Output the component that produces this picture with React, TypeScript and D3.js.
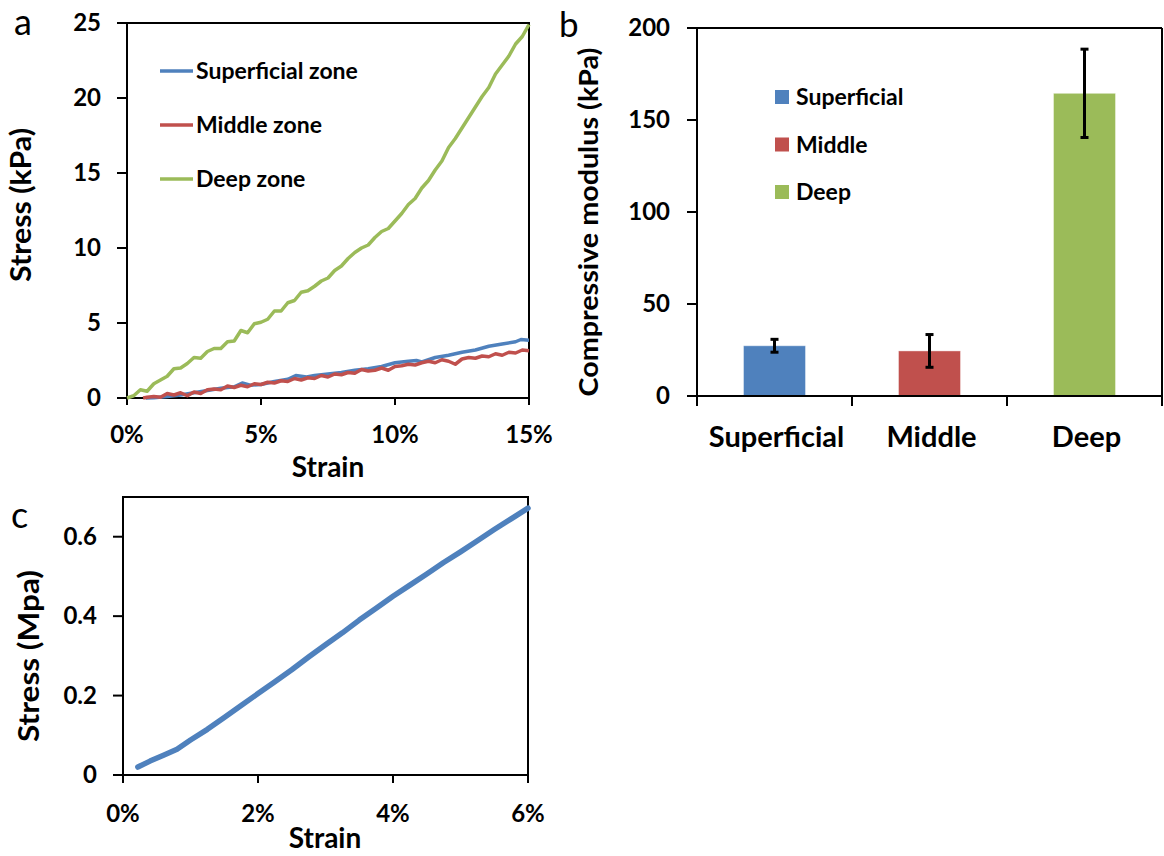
import React from 'react';
import * as d3 from 'd3';

// panel a: stress-strain curves per zone (strain in %, stress in kPa)
const superficialStrain = [0.7, 1.0, 1.5, 2.0, 2.5, 3.0, 3.5, 4.0, 4.3, 4.6, 5.0, 5.5, 6.0, 6.3, 6.7, 7.0, 7.5, 8.0, 8.5, 9.0, 9.5, 10.0, 10.5, 10.8, 11.0, 11.5, 12.0, 12.5, 13.0, 13.5, 14.0, 14.5, 14.7, 15.0];
const superficialStress = [0.0, 0.02, 0.1, 0.2, 0.35, 0.5, 0.65, 0.75, 1.0, 0.85, 0.9, 1.1, 1.25, 1.5, 1.4, 1.5, 1.6, 1.7, 1.85, 1.95, 2.1, 2.35, 2.45, 2.5, 2.4, 2.7, 2.85, 3.05, 3.2, 3.45, 3.6, 3.75, 3.9, 3.85];

const middleStrain = [0.6, 0.75, 1.0, 1.25, 1.5, 1.75, 2.0, 2.25, 2.5, 2.75, 3.0, 3.25, 3.5, 3.75, 4.0, 4.25, 4.5, 4.75, 5.0, 5.25, 5.5, 5.75, 6.0, 6.25, 6.5, 6.75, 7.0, 7.25, 7.5, 7.75, 8.0, 8.25, 8.5, 8.75, 9.0, 9.25, 9.5, 9.75, 10.0, 10.25, 10.5, 10.75, 11.0, 11.25, 11.5, 11.75, 12.0, 12.25, 12.5, 12.75, 13.0, 13.25, 13.5, 13.75, 14.0, 14.25, 14.5, 14.75, 15.0];
const middleStress = [0.0, 0.05, 0.1, 0.05, 0.3, 0.2, 0.35, 0.15, 0.4, 0.3, 0.55, 0.6, 0.55, 0.8, 0.7, 0.85, 0.75, 0.95, 0.9, 1.05, 1.0, 1.15, 1.1, 1.3, 1.2, 1.35, 1.3, 1.5, 1.4, 1.6, 1.55, 1.7, 1.65, 1.9, 1.8, 1.85, 2.0, 1.85, 2.1, 2.15, 2.25, 2.2, 2.35, 2.45, 2.35, 2.55, 2.45, 2.25, 2.6, 2.7, 2.65, 2.8, 2.75, 2.95, 2.85, 3.05, 3.0, 3.2, 3.15];

const deepStrain = [0, 0.25, 0.5, 0.75, 1.0, 1.25, 1.5, 1.75, 2.0, 2.25, 2.5, 2.75, 3.0, 3.25, 3.5, 3.75, 4.0, 4.25, 4.5, 4.75, 5.0, 5.25, 5.5, 5.75, 6.0, 6.25, 6.5, 6.75, 7.0, 7.25, 7.5, 7.75, 8.0, 8.25, 8.5, 8.75, 9.0, 9.25, 9.5, 9.75, 10.0, 10.25, 10.5, 10.75, 11.0, 11.25, 11.5, 11.75, 12.0, 12.25, 12.5, 12.75, 13.0, 13.25, 13.5, 13.75, 14.0, 14.25, 14.5, 14.75, 15.0];
const deepStress = [0.0, 0.15, 0.55, 0.45, 0.95, 1.2, 1.45, 1.95, 2.0, 2.3, 2.7, 2.65, 3.1, 3.3, 3.3, 3.75, 3.8, 4.5, 4.35, 4.95, 5.05, 5.25, 5.8, 5.8, 6.35, 6.5, 7.05, 7.15, 7.45, 7.8, 8.0, 8.5, 8.8, 9.3, 9.7, 10.0, 10.2, 10.7, 11.1, 11.3, 11.8, 12.3, 12.9, 13.3, 14.0, 14.5, 15.2, 15.8, 16.7, 17.3, 18.0, 18.7, 19.4, 20.1, 20.7, 21.6, 22.2, 22.8, 23.6, 24.1, 24.9];

const zoneLegend = ['Superficial zone', 'Middle zone', 'Deep zone'];
const aXTicks = [0, 5, 10, 15];
const aYTicks = [0, 5, 10, 15, 20, 25];

// panel b: compressive modulus per zone
const zones = ['Superficial', 'Middle', 'Deep'];
const modulus = [27.3, 24.5, 164.5];
const modulusErr = [3.5, 8.9, 24];
const bYTicks = [0, 50, 100, 150, 200];

// panel c: single stress-strain curve (strain in %, stress in MPa)
const cStrain = [0.22, 0.4, 0.6, 0.8, 1.0, 1.25, 1.5, 1.75, 2.0, 2.25, 2.5, 2.75, 3.0, 3.25, 3.5, 3.75, 4.0, 4.25, 4.5, 4.75, 5.0, 5.25, 5.5, 5.75, 6.0];
const cStress = [0.02, 0.035, 0.05, 0.065, 0.088, 0.115, 0.145, 0.175, 0.205, 0.235, 0.265, 0.297, 0.328, 0.358, 0.39, 0.42, 0.45, 0.478, 0.506, 0.535, 0.562, 0.59, 0.618, 0.645, 0.672];
const cXTicks = [0, 2, 4, 6];
const cYTicks = [0, 0.2, 0.4, 0.6];

const BLUE = '#4F81BD';
const RED = '#C0504D';
const GREEN = '#9BBB59';
const colors = [BLUE, RED, GREEN];
const FONT = "Lato, 'Open Sans', sans-serif";

const App = () => {
  // ---- panel a
  const ax = d3.scaleLinear().domain([0, 15]).range([127, 529]);
  const ay = d3.scaleLinear().domain([0, 25]).range([398, 23]);
  const aLine = d3.line<[number, number]>().x(d => ax(d[0])).y(d => ay(d[1]));
  const aSeries = [
    d3.zip(superficialStrain, superficialStress) as [number, number][],
    d3.zip(middleStrain, middleStress) as [number, number][],
    d3.zip(deepStrain, deepStress) as [number, number][],
  ];

  // ---- panel b
  const bx = d3.scaleBand().domain(zones).range([697, 1162]).padding(0);
  const by = d3.scaleLinear().domain([0, 200]).range([396, 28]);
  const barW = bx.bandwidth() * 0.4;

  // ---- panel c
  const cx = d3.scaleLinear().domain([0, 6]).range([123, 528]);
  const cy = d3.scaleLinear().domain([0, 0.7]).range([775, 497]);
  const cLine = d3.line<[number, number]>().x(d => cx(d[0])).y(d => cy(d[1]));
  const cData = d3.zip(cStrain, cStress) as [number, number][];

  const pct = (v: number) => `${v}%`;

  return (
    <svg width={1164} height={856} style={{ position: 'absolute', left: 0, top: 0, background: '#fff' }}
      fontFamily={FONT}>
      {/* ================= panel a ================= */}
      <text x={14} y={35} fontSize={36}>a</text>
      <rect x={ax(0)} y={ay(25)} width={ax(15) - ax(0)} height={ay(0) - ay(25)} fill="none" stroke="#000" strokeWidth={2} />
      {aYTicks.map(t => (
        <g key={t}>
          <line x1={117} x2={ax(0)} y1={ay(t)} y2={ay(t)} stroke="#000" strokeWidth={2} />
          <text x={101} y={ay(t) + 8} textAnchor="end" fontSize={24} fontWeight="bold">{t}</text>
        </g>
      ))}
      {aXTicks.map(t => (
        <g key={t}>
          <line x1={ax(t)} x2={ax(t)} y1={ay(0)} y2={ay(0) + 7} stroke="#000" strokeWidth={2} />
          <text x={ax(t)} y={443} textAnchor="middle" fontSize={24} fontWeight="bold">{pct(t)}</text>
        </g>
      ))}
      {aSeries.map((s, i) => (
        <path key={i} d={aLine(s) || ''} fill="none" stroke={colors[i]} strokeWidth={3.5} strokeLinejoin="round" />
      ))}
      {zoneLegend.map((name, i) => {
        const yy = 71 + i * 54;
        return (
          <g key={name}>
            <line x1={160} x2={193} y1={yy} y2={yy} stroke={colors[i]} strokeWidth={3.5} />
            <text x={196} y={yy + 8} fontSize={23} fontWeight="bold">{name}</text>
          </g>
        );
      })}
      <text x={328} y={477} textAnchor="middle" fontSize={28} fontWeight="bold">Strain</text>
      <text transform="translate(31,205) rotate(-90)" textAnchor="middle" fontSize={28} fontWeight="bold"
        textLength={154} lengthAdjust="spacingAndGlyphs">Stress (kPa)</text>

      {/* ================= panel b ================= */}
      <text x={559} y={37} fontSize={35}>b</text>
      <line x1={697} x2={1162} y1={by(200)} y2={by(200)} stroke="#000" strokeWidth={2} />
      <line x1={1162} x2={1162} y1={by(200)} y2={by(0)} stroke="#000" strokeWidth={2} />
      {zones.map((z, i) => {
        const c = (bx(z) as number) + bx.bandwidth() / 2;
        return (
          <g key={z}>
            <rect x={c - barW / 2} y={by(modulus[i])} width={barW} height={by(0) - by(modulus[i])}
              fill={colors[i]} stroke="#ffffff" strokeOpacity={0.4} strokeWidth={1} />
            <line x1={c} x2={c} y1={by(modulus[i] + modulusErr[i])} y2={by(modulus[i] - modulusErr[i])} stroke="#000" strokeWidth={3} />
            <line x1={c - 4} x2={c + 4} y1={by(modulus[i] + modulusErr[i])} y2={by(modulus[i] + modulusErr[i])} stroke="#000" strokeWidth={3} />
            <line x1={c - 4} x2={c + 4} y1={by(modulus[i] - modulusErr[i])} y2={by(modulus[i] - modulusErr[i])} stroke="#000" strokeWidth={3} />
            <text x={c + 2} y={447} textAnchor="middle" fontSize={29} fontWeight="bold">{z}</text>
          </g>
        );
      })}
      <line x1={697} x2={697} y1={by(200)} y2={by(0)} stroke="#000" strokeWidth={2} />
      <line x1={697} x2={1162} y1={by(0)} y2={by(0)} stroke="#000" strokeWidth={2} />
      {bYTicks.map(t => (
        <g key={t}>
          <line x1={687} x2={697} y1={by(t)} y2={by(t)} stroke="#000" strokeWidth={2} />
          <text x={670} y={by(t) + 8} textAnchor="end" fontSize={24} fontWeight="bold">{t}</text>
        </g>
      ))}
      {[...zones.map(z => bx(z) as number), 1162].map((x, i) => (
        <line key={i} x1={x} x2={x} y1={by(0)} y2={by(0) + 10} stroke="#000" strokeWidth={2} />
      ))}
      {zones.map((z, i) => {
        const yy = 97 + i * 47.5;
        return (
          <g key={z}>
            <rect x={775} y={yy - 7} width={14} height={14} fill={colors[i]} />
            <text x={796} y={yy + 8} fontSize={23} fontWeight="bold">{z}</text>
          </g>
        );
      })}
      <text transform="translate(598,222) rotate(-90)" textAnchor="middle" fontSize={26} fontWeight="bold"
        textLength={349} lengthAdjust="spacingAndGlyphs">Compressive modulus (kPa)</text>

      {/* ================= panel c ================= */}
      <text x={11} y={528} fontSize={36}>c</text>
      <rect x={cx(0)} y={cy(0.7)} width={cx(6) - cx(0)} height={cy(0) - cy(0.7)} fill="none" stroke="#000" strokeWidth={2} />
      {cYTicks.map(t => (
        <g key={t}>
          <line x1={113} x2={cx(0)} y1={cy(t)} y2={cy(t)} stroke="#000" strokeWidth={2} />
          <text x={97} y={cy(t) + 8} textAnchor="end" fontSize={24} fontWeight="bold">{t}</text>
        </g>
      ))}
      {cXTicks.map(t => (
        <g key={t}>
          <line x1={cx(t)} x2={cx(t)} y1={cy(0)} y2={cy(0) + 8} stroke="#000" strokeWidth={2} />
          <text x={cx(t)} y={822} textAnchor="middle" fontSize={24} fontWeight="bold">{pct(t)}</text>
        </g>
      ))}
      <path d={cLine(cData) || ''} fill="none" stroke={BLUE} strokeWidth={5.5} strokeLinecap="round" strokeLinejoin="round" />
      <text x={325} y={848} textAnchor="middle" fontSize={28} fontWeight="bold">Strain</text>
      <text transform="translate(39,656) rotate(-90)" textAnchor="middle" fontSize={28} fontWeight="bold"
        textLength={172} lengthAdjust="spacingAndGlyphs">Stress (Mpa)</text>
    </svg>
  );
};

export default App;
